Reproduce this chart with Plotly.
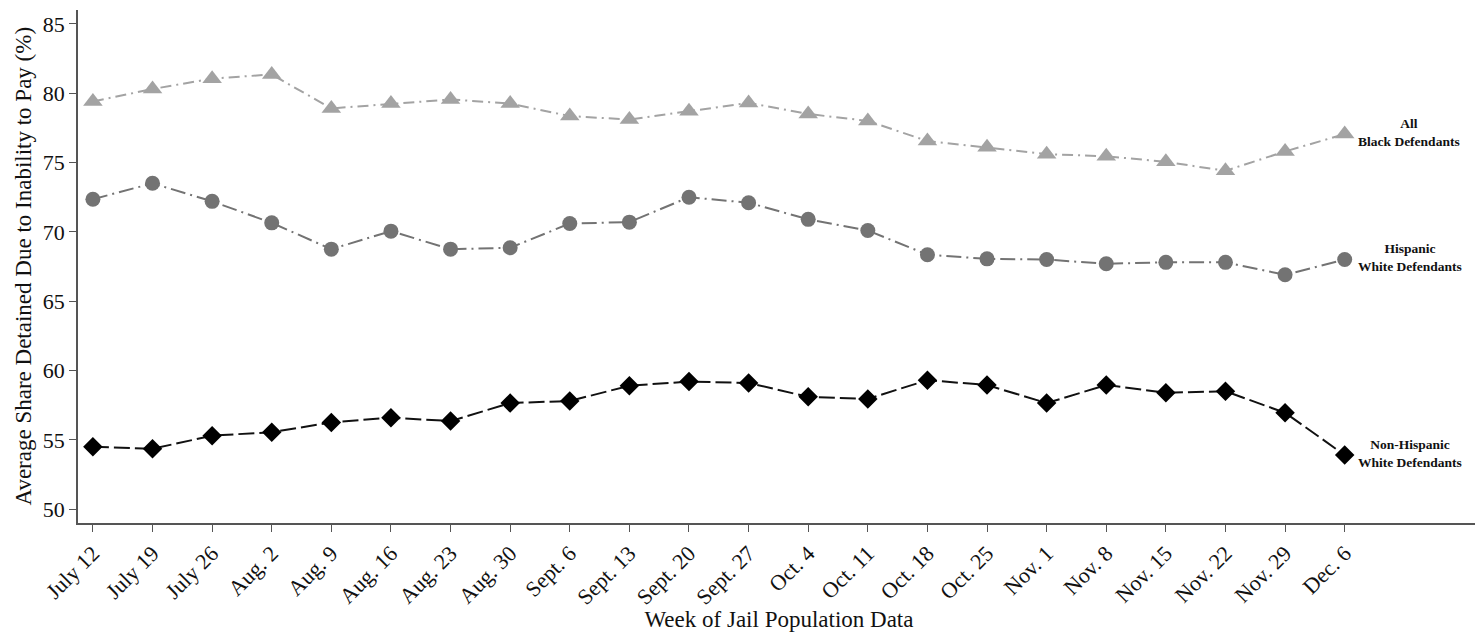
import plotly.graph_objects as go

weeks = ["July 12", "July 19", "July 26", "Aug. 2", "Aug. 9", "Aug. 16", "Aug. 23", "Aug. 30",
         "Sept. 6", "Sept. 13", "Sept. 20", "Sept. 27", "Oct. 4", "Oct. 11", "Oct. 18", "Oct. 25",
         "Nov. 1", "Nov. 8", "Nov. 15", "Nov. 22", "Nov. 29", "Dec. 6"]

all_black = [79.4, 80.3, 81.05, 81.35, 78.9, 79.25, 79.55, 79.25, 78.35, 78.1, 78.7, 79.3,
             78.5, 78.0, 76.55, 76.1, 75.6, 75.45, 75.05, 74.4, 75.8, 77.05]
hispanic_white = [72.35, 73.5, 72.2, 70.65, 68.75, 70.05, 68.75, 68.85, 70.6, 70.7, 72.5, 72.1,
                  70.9, 70.1, 68.35, 68.05, 68.0, 67.7, 67.8, 67.8, 66.9, 68.0]
non_hispanic_white = [54.5, 54.35, 55.3, 55.55, 56.25, 56.6, 56.35, 57.65, 57.8, 58.9, 59.2, 59.1,
                      58.1, 57.95, 59.3, 58.95, 57.65, 58.95, 58.4, 58.5, 56.95, 53.9]

series_names = ["All<br>Black Defendants", "Hispanic<br>White Defendants",
                "Non-Hispanic<br>White Defendants"]

y_ticks = [50, 55, 60, 65, 70, 75, 80, 85]

x = list(range(len(weeks)))
serif = "Liberation Serif, Times New Roman, serif"

fig = go.Figure()

fig.add_trace(go.Scatter(
    x=x, y=all_black, mode="lines+markers", name="All Black Defendants",
    line=dict(color="#a3a3a3", width=2, dash="11px,5px,2px,5px"),
    marker=dict(symbol="triangle-up", size=17, color="#a3a3a3"),
))
fig.add_trace(go.Scatter(
    x=x, y=hispanic_white, mode="lines+markers", name="Hispanic White Defendants",
    line=dict(color="#737373", width=2, dash="15px,5px,2px,5px"),
    marker=dict(symbol="circle", size=15, color="#737373"),
))
fig.add_trace(go.Scatter(
    x=x, y=non_hispanic_white, mode="lines+markers", name="Non-Hispanic White Defendants",
    line=dict(color="#111111", width=2, dash="16px,5px"),
    marker=dict(symbol="diamond", size=15, color="#000000"),
))

for name, vals in zip(series_names, [all_black, hispanic_white, non_hispanic_white]):
    fig.add_annotation(
        x=x[-1], y=vals[-1], text="<b>" + name + "</b>", showarrow=False,
        xanchor="left", yanchor="middle", xshift=11, yshift=2, align="center",
        font=dict(family=serif, size=13.5, color="#111111"),
    )

# y-axis title placed as a rotated annotation to match the reference position
fig.add_annotation(
    xref="paper", yref="paper", x=0, y=0.5, xshift=-55, xanchor="center", yanchor="middle",
    text="Average Share Detained Due to Inability to Pay (%)", textangle=-90, showarrow=False,
    font=dict(family=serif, size=23, color="#111111"),
)

fig.update_layout(
    width=1475, height=624,
    margin=dict(l=70, r=3, t=2, b=109, autoexpand=False),
    paper_bgcolor="white", plot_bgcolor="white",
    showlegend=False,
    font=dict(family=serif, color="#111111"),
)

fig.update_xaxes(
    range=[-0.25, 23.27], automargin=False,
    tickmode="array", tickvals=x, ticktext=weeks, tickangle=-45,
    tickfont=dict(family=serif, size=22),
    ticks="outside", ticklen=7, tickcolor="#555555", tickwidth=1.3,
    showline=True, linecolor="#555555", linewidth=1.5,
    showgrid=False, zeroline=False,
    title=dict(text="Week of Jail Population Data", font=dict(family=serif, size=23), standoff=2),
)
fig.update_yaxes(
    range=[49, 86], automargin=False,
    tickmode="array", tickvals=y_ticks,
    tickfont=dict(family=serif, size=22),
    ticks="outside", ticklen=7, tickcolor="#555555", tickwidth=1.3,
    showline=True, linecolor="#555555", linewidth=1.5,
    showgrid=False, zeroline=False,
)

fig.write_html("out.html")
